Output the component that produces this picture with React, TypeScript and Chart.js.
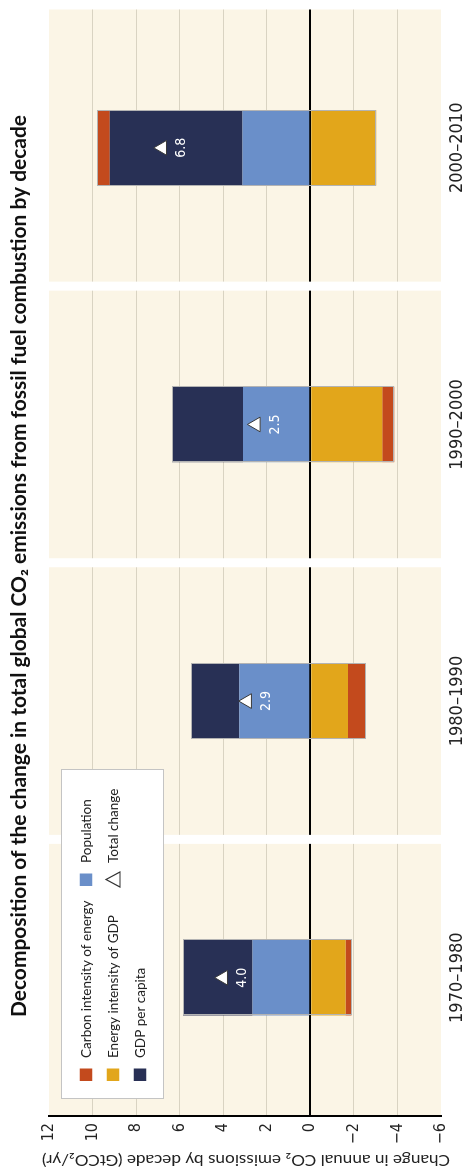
import React, { useEffect, useRef } from 'react';
import { Chart, registerables } from 'chart.js';

Chart.register(...registerables);

// ---------- data ----------
const decades = ['1970–1980', '1980–1990', '1990–2000', '2000–2010'];
const population = [2.65, 3.26, 3.09, 3.11];
const gdpPerCapita = [3.2, 2.21, 3.26, 6.1];
const energyIntensityOfGDP = [-1.61, -1.73, -3.3, -3.03];
const carbonIntensityOfEnergy = [-0.28, -0.83, -0.55, 0.58];
const totalChange = [4.0, 2.9, 2.5, 6.8];
const totalChangeLabels = ['4.0', '2.9', '2.5', '6.8'];
const yTickValues = [-6, -4, -2, 0, 2, 4, 6, 8, 10, 12];

const titleText =
  'Decomposition of the change in total global CO\u2082 emissions from fossil fuel combustion by decade';
const yAxisTitle = 'Change in annual CO\u2082 emissions by decade (GtCO\u2082/yr)';

// ---------- style ----------
const W = 1173;
const H = 469;
const RED = '#C34A1D';
const ORANGE = '#E2A61B';
const BLUE = '#6A8FC9';
const NAVY = '#283055';
const BEIGE = '#FBF5E6';
const GRID = '#D9D3C2';
const NARROW = '"Liberation Sans Narrow", "DejaVu Sans Condensed", "Roboto Condensed", Arial, sans-serif';
const SANS = 'Lato, "Open Sans", sans-serif';

const legendColumns = [
  [
    { label: 'Carbon intensity of energy', color: RED, kind: 'box' },
    { label: 'Energy intensity of GDP', color: ORANGE, kind: 'box' },
    { label: 'GDP per capita', color: NAVY, kind: 'box' },
  ],
  [
    { label: 'Population', color: BLUE, kind: 'box' },
    { label: 'Total change', color: '#333', kind: 'triangle' },
  ],
];

function drawScaledText(
  ctx: CanvasRenderingContext2D,
  text: string,
  cx: number,
  cy: number,
  font: string,
  targetWidth: number,
  rotation: number
) {
  ctx.save();
  ctx.font = font;
  ctx.textAlign = 'center';
  ctx.textBaseline = 'middle';
  const w = ctx.measureText(text).width;
  ctx.translate(cx, cy);
  if (rotation) ctx.rotate(rotation);
  ctx.scale(targetWidth / w, 1);
  ctx.fillText(text, 0, 0);
  ctx.restore();
}

const decorPlugin = {
  id: 'decor',
  beforeDraw(chart: any) {
    const { ctx, chartArea: a } = chart;
    ctx.save();
    ctx.fillStyle = '#ffffff';
    ctx.fillRect(0, 0, chart.width, chart.height);
    ctx.fillStyle = BEIGE;
    ctx.fillRect(a.left, a.top, a.right - a.left, a.bottom - a.top);
    ctx.restore();
  },
  beforeDatasetsDraw(chart: any) {
    const { ctx, chartArea: a } = chart;
    const xs = chart.scales.x;
    ctx.save();
    ctx.fillStyle = '#ffffff';
    for (let i = 1; i < decades.length; i++) {
      const bx = (xs.getPixelForValue(i - 1) + xs.getPixelForValue(i)) / 2;
      ctx.fillRect(bx - 4.5, a.top, 9, a.bottom - a.top);
    }
    ctx.restore();
  },
  afterDatasetsDraw(chart: any) {
    const { ctx } = chart;
    ctx.save();
    const metas = [0, 1, 2, 3].map((i) => chart.getDatasetMeta(i));
    for (let j = 0; j < decades.length; j++) {
      let top = Infinity;
      let bottom = -Infinity;
      let left = 0;
      let right = 0;
      metas.forEach((m: any) => {
        const el = m.data[j];
        const p = el.getProps(['x', 'y', 'base', 'width'], true);
        top = Math.min(top, p.y, p.base);
        bottom = Math.max(bottom, p.y, p.base);
        left = p.x - p.width / 2;
        right = p.x + p.width / 2;
      });
      ctx.strokeStyle = '#B3B3B3';
      ctx.lineWidth = 1;
      ctx.strokeRect(Math.round(left) + 0.5, Math.round(top) + 0.5, Math.round(right - left) - 1, Math.round(bottom - top) - 1);
    }
    const lm = chart.getDatasetMeta(4);
    ctx.fillStyle = '#ffffff';
    ctx.font = '14px ' + NARROW;
    ctx.textAlign = 'center';
    ctx.textBaseline = 'middle';
    lm.data.forEach((pt: any, j: number) => {
      ctx.fillText(totalChangeLabels[j], pt.x, pt.y + 19);
    });
    ctx.restore();
  },
  afterDraw(chart: any) {
    const { ctx, chartArea: a } = chart;
    ctx.save();
    // main title
    ctx.fillStyle = '#111';
    drawScaledText(ctx, titleText, 607, 20, 'bold 20px ' + SANS, 902, 0);
    // y axis title
    ctx.fillStyle = '#222';
    drawScaledText(ctx, yAxisTitle, 13, (a.top + a.bottom) / 2 + 1, '15px ' + SANS, 408, -Math.PI / 2);

    // legend
    const lx = a.left + 17;
    const ly = a.top + 12;
    ctx.fillStyle = '#ffffff';
    ctx.fillRect(lx, ly, 329, 102);
    ctx.strokeStyle = '#C4C4C4';
    ctx.lineWidth = 1;
    ctx.strokeRect(lx + 0.5, ly + 0.5, 329, 102);
    const colX = [lx + 18, lx + 213];
    const rowY = [ly + 25, ly + 52, ly + 79];
    ctx.font = '13.5px ' + SANS;
    ctx.textAlign = 'left';
    ctx.textBaseline = 'middle';
    legendColumns.forEach((col, ci) => {
      col.forEach((item, ri) => {
        const x = colX[ci];
        const y = rowY[ri];
        if (item.kind === 'box') {
          ctx.fillStyle = item.color;
          ctx.fillRect(x, y - 6.25, 12.5, 12.5);
        } else {
          ctx.strokeStyle = item.color;
          ctx.lineWidth = 1.2;
          ctx.beginPath();
          ctx.moveTo(x + 6.5, y - 7);
          ctx.lineTo(x + 14, y + 7);
          ctx.lineTo(x - 1, y + 7);
          ctx.closePath();
          ctx.stroke();
        }
        ctx.fillStyle = '#222';
        ctx.fillText(item.label, x + 23, y + 1);
      });
    });
    ctx.restore();
  },
};

export default function App() {
  const ref = useRef<HTMLCanvasElement>(null);

  useEffect(() => {
    const canvas = ref.current;
    if (!canvas) return;
    const chart = new Chart(canvas, {
      type: 'bar',
      data: {
        labels: decades,
        datasets: [
          { label: 'Population', data: population, backgroundColor: BLUE, stack: 'decomp' },
          { label: 'GDP per capita', data: gdpPerCapita, backgroundColor: NAVY, stack: 'decomp' },
          { label: 'Energy intensity of GDP', data: energyIntensityOfGDP, backgroundColor: ORANGE, stack: 'decomp' },
          { label: 'Carbon intensity of energy', data: carbonIntensityOfEnergy, backgroundColor: RED, stack: 'decomp' },
          {
            type: 'line',
            label: 'Total change',
            data: totalChange,
            stack: 'total',
            order: -1,
            showLine: false,
            pointStyle: 'triangle',
            pointRadius: 8.5,
            pointBackgroundColor: '#ffffff',
            pointBorderColor: '#3a3a3a',
            pointBorderWidth: 1,
          } as any,
        ],
      },
      options: {
        responsive: false,
        maintainAspectRatio: false,
        animation: false,
        events: [],
        layout: { padding: { top: 49, right: 8, left: 0, bottom: 0 } },
        datasets: {
          bar: { categoryPercentage: 1, barPercentage: 0.273, borderWidth: 0 },
        },
        plugins: {
          legend: { display: false },
          tooltip: { enabled: false },
          title: { display: false },
        },
        scales: {
          x: {
            stacked: true,
            grid: { display: false, drawTicks: false },
            border: { display: false },
            ticks: {
              padding: 6,
              color: '#222',
              font: { family: NARROW, size: 18 },
              maxRotation: 0,
              autoSkip: false,
            },
            afterFit: (s: any) => {
              s.height = 28;
            },
          },
          y: {
            stacked: true,
            min: -6,
            max: 12,
            afterBuildTicks: (s: any) => {
              s.ticks = yTickValues.map((v) => ({ value: v }));
            },
            ticks: {
              padding: 7,
              color: '#222',
              font: { family: NARROW, size: 16 },
              callback: (v: any) => (Number(v) < 0 ? '\u2212' + Math.abs(Number(v)) : String(v)),
            },
            grid: {
              drawTicks: false,
              color: (c: any) =>
                c.tick && c.tick.value === 0
                  ? '#000000'
                  : c.tick && (c.tick.value === 12 || c.tick.value === -6)
                  ? 'rgba(0,0,0,0)'
                  : GRID,
              lineWidth: (c: any) => (c.tick && c.tick.value === 0 ? 2 : 1),
            },
            border: { display: true, color: '#000000', width: 2 },
            title: { display: false },
            afterFit: (s: any) => {
              s.width = 57;
            },
          },
        },
      },
      plugins: [decorPlugin],
    });
    return () => chart.destroy();
  }, []);

  return (
    <div
      style={{
        position: 'fixed',
        left: 0,
        top: 0,
        width: W,
        height: H,
        transformOrigin: '0 0',
        transform: `translate(0px, ${W}px) rotate(-90deg)`,
        background: '#ffffff',
      }}
    >
      <canvas ref={ref} width={W} height={H} style={{ display: 'block', width: W, height: H }} />
    </div>
  );
}
